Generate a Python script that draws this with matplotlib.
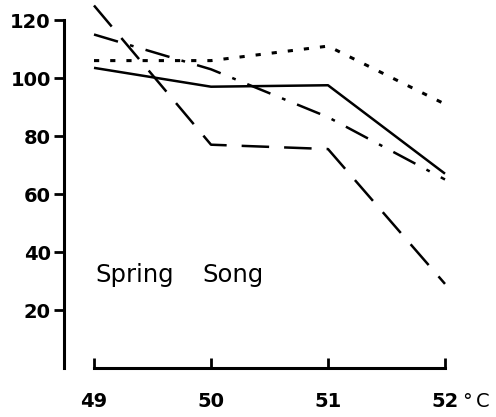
import matplotlib
matplotlib.use("Agg")
import matplotlib.pyplot as plt

temps = [49, 50, 51, 52]
solid = [103.5, 97, 97.5, 67]
dotted = [106, 106, 111, 91]
dashdot = [115, 103, 86.5, 65]
longdash = [125, 77, 75.5, 29]
yticks = [20, 40, 60, 80, 100, 120]
xlabels = ["49", "50", "51", "52"]

plt.rcParams['font.family'] = ['DejaVu Sans']

fig = plt.figure(figsize=(4.96, 4.17), dpi=100)
W, H = 496, 417
x0px, x1px = 64, 460
ybot, ytop = 368, 0
PXX, PXY = 117.0, 2.9
ax = fig.add_axes([x0px / W, (H - ybot) / H, (x1px - x0px) / W, (ybot - ytop) / H])
xl = 49 - (94 - x0px) / PXX
xr = xl + (x1px - x0px) / PXX
ax.set_xlim(xl, xr)
ax.set_ylim(0, (ybot - ytop) / PXY)

def px2x(px):
    return xl + (px - x0px) / PXX

def px2y(py):
    return (ybot - py) / PXY

lw = 1.8
ax.plot(temps, solid, color='black', lw=lw, solid_capstyle='butt')
ax.plot(temps, dotted, color='black', lw=lw + 0.4, dashes=(1.7, 3.6))
ax.plot(temps, dashdot, color='black', lw=lw, dashes=(10, 5, 1.5, 5))
ax.plot(temps, longdash, color='black', lw=lw, dashes=(11, 6))

for s in ['top', 'right']:
    ax.spines[s].set_visible(False)
ax.spines['left'].set_bounds(0, 120)
ax.spines['left'].set_linewidth(2.2)
ax.spines['bottom'].set_bounds(49, 52)
ax.spines['bottom'].set_linewidth(2.2)

ax.set_yticks(yticks)
ax.set_yticklabels([str(v) for v in yticks], fontsize=14, fontweight='bold')
ax.tick_params(axis='y', direction='out', length=7.5, width=2, pad=2)
ax.set_xticks(temps)
ax.set_xticklabels(xlabels, fontsize=14, fontweight='bold')
ax.tick_params(axis='x', direction='in', length=7, width=2, pad=17)

ax.text(px2x(462), px2y(407), "°", fontsize=14, ha='left', va='baseline', clip_on=False)
ax.text(px2x(476), px2y(407), "C", fontsize=14, ha='left', va='baseline', clip_on=False)
ax.text(px2x(95), px2y(282), "Spring", fontsize=17.5, ha='left', va='baseline')
ax.text(px2x(202), px2y(282), "Song", fontsize=17.5, ha='left', va='baseline')

fig.savefig("out.png", dpi=100)
